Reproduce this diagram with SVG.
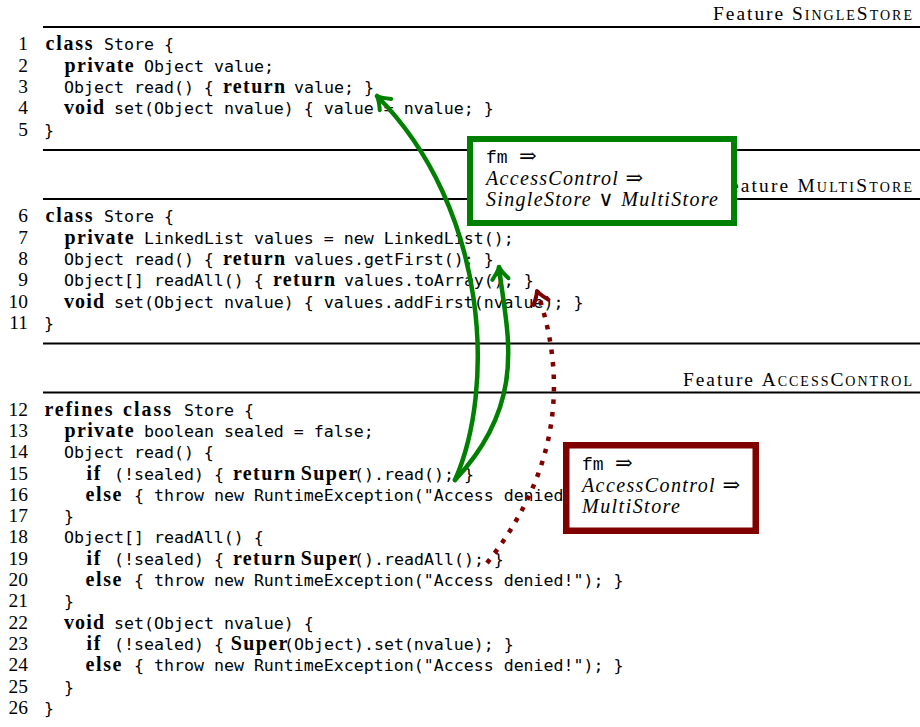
<svg xmlns="http://www.w3.org/2000/svg" width="920" height="727" viewBox="0 0 920 727">
<style>
.ln{font-family:"Liberation Serif",serif;font-size:19.4px;text-anchor:end;fill:#000}
.c{font-family:"DejaVu Sans Mono",monospace;font-size:16.6px;fill:#000}
.k{font-family:"Liberation Serif",serif;font-weight:bold;font-size:20px;fill:#000}
.hd{font-family:"Liberation Serif",serif;font-size:19.4px;fill:#000}
.sc{font-variant:small-caps}
.rule{stroke:#000;stroke-width:2}
.m{font-family:"Liberation Serif","DejaVu Serif",serif;font-style:italic;font-size:20px;fill:#000}
.tt{font-family:"Liberation Mono",monospace;font-style:normal;font-size:18px;fill:#000}
.up{font-style:normal;font-family:"DejaVu Serif","Liberation Serif",serif;font-size:21px;fill:#000}
.ga{fill:none;stroke:#008000;stroke-width:4.5;stroke-linecap:round}
.ra{fill:none;stroke:#800000;stroke-width:4.5;stroke-dasharray:4.5 8}
</style>
<defs>
<marker id="ag" markerUnits="userSpaceOnUse" viewBox="-16 -12 20 24" markerWidth="20" markerHeight="24" refX="0" refY="0" orient="auto" overflow="visible">
<path d="M -12 -8 Q -5 -2 0 0 Q -5 2 -12 8" fill="none" stroke="#008000" stroke-width="4" stroke-linecap="round" stroke-linejoin="round"/>
</marker>
<marker id="ar" markerUnits="userSpaceOnUse" viewBox="-16 -12 20 24" markerWidth="20" markerHeight="24" refX="0" refY="0" orient="auto" overflow="visible">
<path d="M -12 -8 Q -5 -2 0 0 Q -5 2 -12 8" fill="none" stroke="#800000" stroke-width="4" stroke-linecap="round" stroke-linejoin="round"/>
</marker>
</defs>
<rect width="920" height="727" fill="#fff"/>

<g id="feature-singlestore">
<text class="hd" x="713" y="20" textLength="199">Feature <tspan class="sc">SingleStore</tspan></text>
<line class="rule" x1="43" y1="27" x2="920" y2="27"/>
<text class="ln" x="28" y="50.3">1</text><text class="k" x="45.5" y="50.3" textLength="47">class</text><text class="c" x="104" y="50.3">Store {</text>
<text class="ln" x="28" y="71.6">2</text><text class="k" x="64.4" y="71.6" textLength="69.3">private</text><text class="c" x="144" y="71.6">Object value;</text>
<text class="ln" x="28" y="92.9">3</text><text class="c" x="64" y="92.9">Object read() {</text><text class="k" x="223" y="92.9" textLength="62">return</text><text class="c" x="294" y="92.9">value; }</text>
<text class="ln" x="28" y="114.2">4</text><text class="k" x="64" y="114.2" textLength="40">void</text><text class="c" x="114" y="114.2">set(Object nvalue) { value = nvalue; }</text>
<text class="ln" x="28" y="135.5">5</text><text class="c" x="44" y="135.5">}</text>
<line class="rule" x1="43" y1="150" x2="920" y2="150"/>
</g>

<g id="feature-multistore">
<text class="hd" x="717" y="191.7" textLength="195">Feature <tspan class="sc">MultiStore</tspan></text>
<line class="rule" x1="43" y1="199" x2="920" y2="199"/>
<text class="ln" x="28" y="222.3">6</text><text class="k" x="45.5" y="222.3" textLength="47">class</text><text class="c" x="104" y="222.3">Store {</text>
<text class="ln" x="28" y="243.6">7</text><text class="k" x="64.4" y="243.6" textLength="69.3">private</text><text class="c" x="144" y="243.6">LinkedList values = new LinkedList();</text>
<text class="ln" x="28" y="264.9">8</text><text class="c" x="64" y="264.9">Object read() {</text><text class="k" x="223" y="264.9" textLength="62">return</text><text class="c" x="294" y="264.9">values.getFirst(); }</text>
<text class="ln" x="28" y="286.2">9</text><text class="c" x="64" y="286.2">Object[] readAll() {</text><text class="k" x="273" y="286.2" textLength="62">return</text><text class="c" x="344" y="286.2">values.toArray(); }</text>
<text class="ln" x="28" y="307.5">10</text><text class="k" x="64" y="307.5" textLength="40">void</text><text class="c" x="114" y="307.5">set(Object nvalue) { values.addFirst(nvalue); }</text>
<text class="ln" x="28" y="328.8">11</text><text class="c" x="44" y="328.8">}</text>
<line class="rule" x1="43" y1="343.5" x2="920" y2="343.5"/>
</g>

<g id="feature-accesscontrol">
<text class="hd" x="683" y="385.5" textLength="229">Feature <tspan class="sc">AccessControl</tspan></text>
<line class="rule" x1="43" y1="392.5" x2="920" y2="392.5"/>
<text class="ln" x="28" y="415.6">12</text><text class="k" x="44.5" y="415.6" textLength="68">refines</text><text class="k" x="123" y="415.6" textLength="48">class</text><text class="c" x="184" y="415.6">Store {</text>
<text class="ln" x="28" y="436.9">13</text><text class="k" x="64.4" y="436.9" textLength="69.3">private</text><text class="c" x="144" y="436.9">boolean sealed = false;</text>
<text class="ln" x="28" y="458.2">14</text><text class="c" x="64" y="458.2">Object read() {</text>
<text class="ln" x="28" y="479.5">15</text><text class="k" x="86.5" y="479.5" textLength="14">if</text><text class="c" x="114" y="479.5">(!sealed) {</text><text class="k" x="233" y="479.5" textLength="62">return</text><text class="k" x="300.7" y="479.5" textLength="56.6">Super</text><text class="c" x="354" y="479.5">().read(); }</text>
<text class="ln" x="28" y="500.8">16</text><text class="k" x="85.5" y="500.8" textLength="36">else</text><text class="c" x="134" y="500.8">{ throw new RuntimeException("Access denied!"); }</text>
<text class="ln" x="28" y="522.1">17</text><text class="c" x="64" y="522.1">}</text>
<text class="ln" x="28" y="543.4">18</text><text class="c" x="64" y="543.4">Object[] readAll() {</text>
<text class="ln" x="28" y="564.7">19</text><text class="k" x="86.5" y="564.7" textLength="14">if</text><text class="c" x="114" y="564.7">(!sealed) {</text><text class="k" x="233" y="564.7" textLength="62">return</text><text class="k" x="300.7" y="564.7" textLength="56.6">Super</text><text class="c" x="354" y="564.7">().readAll(); }</text>
<text class="ln" x="28" y="586">20</text><text class="k" x="85.5" y="586" textLength="36">else</text><text class="c" x="134" y="586">{ throw new RuntimeException("Access denied!"); }</text>
<text class="ln" x="28" y="607.3">21</text><text class="c" x="64" y="607.3">}</text>
<text class="ln" x="28" y="628.6">22</text><text class="k" x="64" y="628.6" textLength="40">void</text><text class="c" x="114" y="628.6">set(Object nvalue) {</text>
<text class="ln" x="28" y="649.9">23</text><text class="k" x="86.5" y="649.9" textLength="14">if</text><text class="c" x="114" y="649.9">(!sealed) {</text><text class="k" x="230.7" y="649.9" textLength="56.6">Super</text><text class="c" x="284" y="649.9">(Object).set(nvalue); }</text>
<text class="ln" x="28" y="671.2">24</text><text class="k" x="85.5" y="671.2" textLength="36">else</text><text class="c" x="134" y="671.2">{ throw new RuntimeException("Access denied!"); }</text>
<text class="ln" x="28" y="692.5">25</text><text class="c" x="64" y="692.5">}</text>
<text class="ln" x="28" y="713.8">26</text><text class="c" x="44" y="713.8">}</text>
</g>

<g id="connectors">
<path class="ga" d="M 455 480 C 495 390, 490 210, 377 96" marker-end="url(#ag)"/>
<path class="ga" d="M 455 480 C 530 400, 506 330, 499 267" marker-end="url(#ag)"/>
<path class="ra" d="M 487 563 C 545 490, 575 400, 537 291" marker-end="url(#ar)"/>
</g>

<g id="constraint-green">
<rect x="470" y="139" width="264" height="84" fill="#fff" stroke="#008000" stroke-width="6"/>
<text class="tt" x="486" y="163">fm</text><text class="up" x="519" y="163">⇒</text>
<text class="m" x="486" y="185" textLength="157">AccessControl <tspan class="up">⇒</tspan></text>
<text class="m" x="486" y="206" textLength="232">SingleStore <tspan class="up">∨</tspan> MultiStore</text>
</g>

<g id="constraint-red">
<rect x="566.25" y="445.25" width="189.5" height="85.5" fill="#fff" stroke="#800000" stroke-width="6.5"/>
<text class="tt" x="582" y="470">fm</text><text class="up" x="615" y="470">⇒</text>
<text class="m" x="582" y="492" textLength="158">AccessControl <tspan class="up">⇒</tspan></text>
<text class="m" x="582" y="513" textLength="98">MultiStore</text>
</g>
</svg>
